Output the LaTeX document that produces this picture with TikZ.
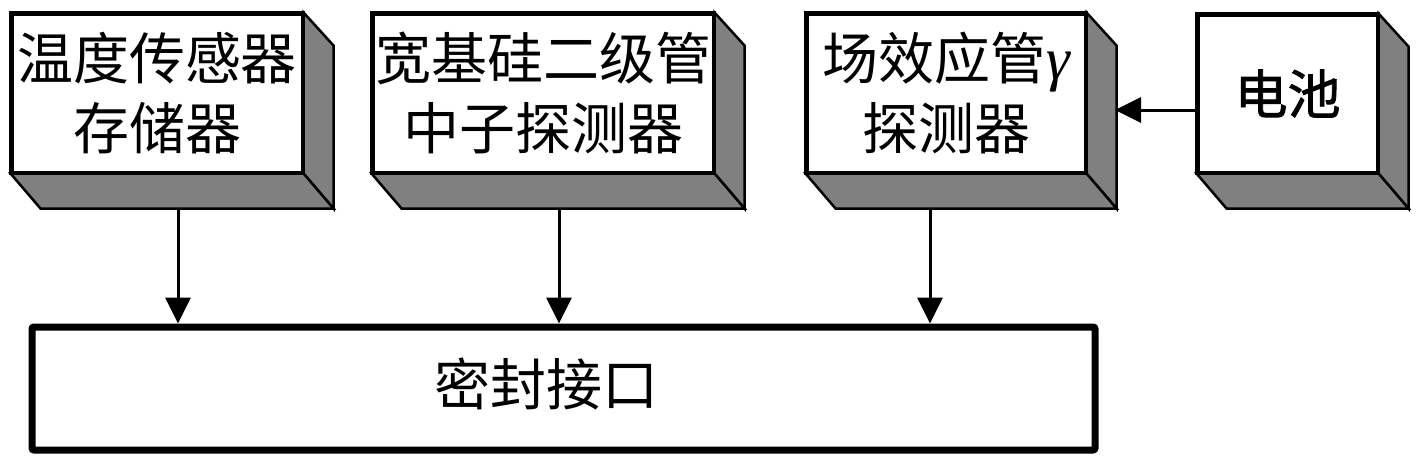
\documentclass[tikz,border=0pt]{standalone}
\usepackage{fontspec}
\newfontfamily\cjk{Noto Sans CJK SC}
\newfontfamily\cjkb[FakeBold=1.5]{Noto Sans CJK SC}
\newfontfamily\gfont{Liberation Serif}
\usetikzlibrary{arrows.meta}
\tikzset{
  face/.style={draw=black, fill=white, line width=3pt, rectangle, inner sep=0pt,
    minimum height=158pt, align=center,
    font=\cjk\fontsize{56}{68}\selectfont},
  shade3d/.style={draw=black, fill=black!50, line width=2.5pt, line join=miter},
  arr/.style={line width=3pt, -{Triangle[length=26pt,width=25pt]}},
  seal/.style={draw=black, line width=7pt, rectangle, rounded corners=2pt,
    minimum width=1063pt, minimum height=123pt, inner sep=0pt},
}
\newcommand{\sideboxes}[1]{%
  \filldraw[shade3d] (#1.north east) -- ([shift={(30,33)}]#1.north east)
     -- ([shift={(30,35)}]#1.south east) -- (#1.south east) -- cycle;
  \filldraw[shade3d] (#1.south west) -- (#1.south east)
     -- ([shift={(30,35)}]#1.south east) -- ([shift={(30,35)}]#1.south west) -- cycle;
  \draw[line width=3pt] (#1.north west) rectangle (#1.south east);
}
\begin{document}
\begin{tikzpicture}[x=1pt,y=-1pt]
\useasboundingbox (0,0) rectangle (1417,463);
\node[face, minimum width=290pt] (b1) at (157,93) {\raisebox{2pt}{温度传感器}\\存储器};
\node[face, minimum width=340pt] (b2) at (543,93) {\raisebox{2pt}{宽基硅二级管}\\中子探测器};
\node[face, minimum width=278pt] (b3) at (946,93) {\raisebox{2pt}{场效应管{\gfont\itshape\fontsize{60}{68}\selectfont γ}}\\探测器};
\node[face, minimum width=179pt, minimum height=157pt, font=\cjkb\fontsize{53}{60}\selectfont] (b4) at (1287.5,93.5) {电池};
\sideboxes{b1}
\sideboxes{b2}
\sideboxes{b3}
\sideboxes{b4}
\node[seal] (seal) at (563.5,388.5) {};
\node[font=\cjk\fontsize{56}{60}\selectfont] (sealtxt) at (546,384) {密封接口};
\coordinate (s1) at (178,208);
\coordinate (s2) at (559,208);
\coordinate (s3) at (930,208);
\coordinate (b3side) at (1115,110);
\draw[arr] (s1) -- (s1 |- seal.north);
\draw[arr] (s2) -- (s2 |- seal.north);
\draw[arr] (s3) -- (s3 |- seal.north);
\draw[arr] (b4.west |- b3side) -- (b3side);
\end{tikzpicture}
\end{document}
